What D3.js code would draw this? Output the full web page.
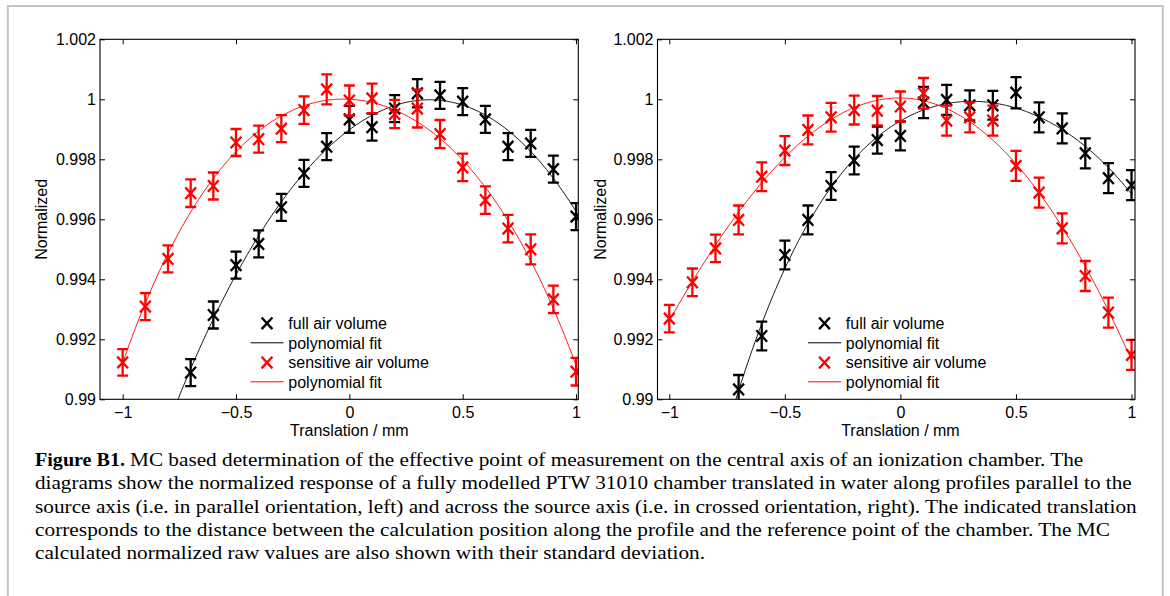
<!DOCTYPE html>
<html><head><meta charset="utf-8">
<script src="https://cdn.jsdelivr.net/npm/d3@7"></script>
<style>body{margin:0;background:#fff}</style>
</head><body>
<svg id="chart" width="1170" height="596"></svg>
<script>
// ---------- DATA ----------
const xAll = [-1,-0.9,-0.8,-0.7,-0.6,-0.5,-0.4,-0.3,-0.2,-0.1,0,0.1,0.2,0.3,0.4,0.5,0.6,0.7,0.8,0.9,1];
const xFrom07 = [-0.7,-0.6,-0.5,-0.4,-0.3,-0.2,-0.1,0,0.1,0.2,0.3,0.4,0.5,0.6,0.7,0.8,0.9,1];

// left panel (parallel orientation)
const leftFull = [0.99089,0.99281,0.99447,0.99518,0.99640,0.99753,0.99842,0.99933,0.99907,0.99969,1.00020,1.00013,0.99992,0.99933,0.99842,0.99853,0.99767,0.99609];
const leftFullErr = [0.00045,0.00045,0.00045,0.00045,0.00045,0.00045,0.00045,0.00045,0.00045,0.00045,0.00047,0.00045,0.00045,0.00045,0.00045,0.00045,0.00045,0.00045];
const leftSens = [0.99123,0.99309,0.99468,0.99687,0.99711,0.99856,0.99867,0.99902,0.99964,1.00033,0.99996,1.00003,0.99951,0.99969,0.99884,0.99773,0.99664,0.99569,0.99500,0.99333,0.99092];
const leftSensErr = [0.00044,0.00045,0.00045,0.00046,0.00045,0.00045,0.00045,0.00045,0.00046,0.00050,0.00050,0.00049,0.00047,0.00063,0.00047,0.00046,0.00046,0.00046,0.00050,0.00046,0.00046];

// right panel (crossed orientation)
const rightFull = [0.99033,0.99211,0.99481,0.99598,0.99711,0.99796,0.99864,0.99878,0.99989,0.99998,0.99980,0.99980,1.00022,0.99940,0.99903,0.99820,0.99737,0.99714];
const rightFullErr = [0.00048,0.00048,0.00048,0.00048,0.00046,0.00046,0.00045,0.00048,0.00052,0.00050,0.00050,0.00048,0.00052,0.00050,0.00050,0.00050,0.00050,0.00050];
const rightSens = [0.99269,0.99390,0.99503,0.99598,0.99742,0.99829,0.99898,0.99940,0.99964,0.99962,0.99976,1.00020,0.99929,0.99940,0.99929,0.99778,0.99689,0.99570,0.99411,0.99289,0.99148];
const rightSensErr = [0.00046,0.00046,0.00046,0.00048,0.00048,0.00048,0.00048,0.00048,0.00048,0.00049,0.00050,0.00051,0.00050,0.00050,0.00050,0.00050,0.00050,0.00050,0.00050,0.00050,0.00050];

const xTicks = [-1,-0.5,0,0.5,1];
const xTickLabels = ["\u22121","\u22120.5","0","0.5","1"];
const yTicks = [0.99,0.992,0.994,0.996,0.998,1,1.002];
const yTickLabels = ["0.99","0.992","0.994","0.996","0.998","1","1.002"];
const legendLabels = ["full air volume","polynomial fit","sensitive air volume","polynomial fit"];
const xLabel = "Translation / mm";
const yLabel = "Normalized";
const captionBold = "Figure B1.";
const captionLines = [
  "MC based determination of the effective point of measurement on the central axis of an ionization chamber. The",
  "diagrams show the normalized response of a fully modelled PTW 31010 chamber translated in water along profiles parallel to the",
  "source axis (i.e. in parallel orientation, left) and across the source axis (i.e. in crossed orientation, right). The indicated translation",
  "corresponds to the distance between the calculation position along the profile and the reference point of the chamber. The MC",
  "calculated normalized raw values are also shown with their standard deviation."
];

// ---------- HELPERS ----------
function polyfit(xs, ys, deg){
  const n = deg+1;
  const A = Array.from({length:n},()=>new Array(n).fill(0));
  const b = new Array(n).fill(0);
  xs.forEach((x,k)=>{
    for(let i=0;i<n;i++){
      b[i]+=ys[k]*Math.pow(x,i);
      for(let j=0;j<n;j++) A[i][j]+=Math.pow(x,i+j);
    }
  });
  for(let i=0;i<n;i++){
    let p=i; for(let r=i+1;r<n;r++) if(Math.abs(A[r][i])>Math.abs(A[p][i])) p=r;
    [A[i],A[p]]=[A[p],A[i]]; [b[i],b[p]]=[b[p],b[i]];
    for(let r=i+1;r<n;r++){const f=A[r][i]/A[i][i]; for(let c=i;c<n;c++) A[r][c]-=f*A[i][c]; b[r]-=f*b[i];}
  }
  const c=new Array(n).fill(0);
  for(let i=n-1;i>=0;i--){let s=b[i]; for(let j=i+1;j<n;j++) s-=A[i][j]*c[j]; c[i]=s/A[i][i];}
  return x=>c.reduce((s,ci,i)=>s+ci*Math.pow(x,i),0);
}

const svg = d3.select("#chart");
svg.append("rect").attr("width",1170).attr("height",596).attr("fill","#fff");
svg.append("rect").attr("x",7.8).attr("y",6).attr("width",1155).attr("height",700)
  .attr("fill","none").attr("stroke","#c4c4c4").attr("stroke-width",2);

const FONT = "'Liberation Sans', Arial, Helvetica, sans-serif";
const yTop = 39.3, yBottom = 399.3;
const y = d3.scaleLinear().domain([0.99,1.002]).range([yBottom, yTop]);

const panels = [
  {id:"L", left:100, right:578.3, domain:[-1.1,1.01], full:leftFull, fullErr:leftFullErr, sens:leftSens, sensErr:leftSensErr, ylabX:41},
  {id:"R", left:657.5, right:1135, domain:[-1.051,1.015], full:rightFull, fullErr:rightFullErr, sens:rightSens, sensErr:rightSensErr, ylabX:600}
];

const xMark = () => `M${-5.4},${-5.8}L${5.4},${5.8}M${-5.4},${5.8}L${5.4},${-5.8}`;

panels.forEach(p=>{
  const x = d3.scaleLinear().domain(p.domain).range([p.left,p.right]);
  const g = svg.append("g");
  g.append("clipPath").attr("id","clip"+p.id).append("rect")
    .attr("x",p.left).attr("y",yTop).attr("width",p.right-p.left).attr("height",yBottom-yTop);
  const plot = g.append("g").attr("clip-path",`url(#clip${p.id})`);

  const series = [
    {xs:xFrom07, ys:p.full, err:p.fullErr, color:"#000"},
    {xs:xAll, ys:p.sens, err:p.sensErr, color:"#ff0000"}
  ];
  series.forEach(s=>{
    const f = polyfit(s.xs, s.ys, 4);
    const fx = d3.range(-1,1.0001,0.01);
    plot.append("path").datum(fx)
      .attr("d", d3.line().x(d=>x(d)).y(d=>y(f(d))))
      .attr("fill","none").attr("stroke",s.color).attr("stroke-width",0.9);
  });
  series.forEach(s=>{
    const pts = plot.append("g").selectAll("g").data(s.xs.map((xv,i)=>({x:xv,y:s.ys[i],e:s.err[i]})))
      .join("g").attr("transform",d=>`translate(${x(d.x)},0)`)
      .attr("stroke",s.color).attr("stroke-width",2.3).attr("fill","none");
    pts.append("line").attr("x1",0).attr("x2",0).attr("y1",d=>y(d.y-d.e)).attr("y2",d=>y(d.y+d.e));
    pts.append("line").attr("x1",-5.5).attr("x2",5.5).attr("y1",d=>y(d.y-d.e)).attr("y2",d=>y(d.y-d.e));
    pts.append("line").attr("x1",-5.5).attr("x2",5.5).attr("y1",d=>y(d.y+d.e)).attr("y2",d=>y(d.y+d.e));
    pts.append("path").attr("transform",d=>`translate(0,${y(d.y)})`).attr("d",xMark());
  });

  // box
  g.append("rect").attr("x",p.left).attr("y",yTop).attr("width",p.right-p.left).attr("height",yBottom-yTop)
    .attr("fill","none").attr("stroke","#000").attr("stroke-width",1.1);

  const ax = (sel)=>{sel.select(".domain").remove(); sel.selectAll("line").attr("stroke","#000").attr("stroke-width",1);
    sel.selectAll("text").attr("fill","#000").style("font-family",FONT).style("font-size","16px");};
  g.append("g").attr("transform",`translate(0,${yBottom})`)
    .call(d3.axisBottom(x).tickValues(xTicks).tickFormat((d,i)=>xTickLabels[i]).tickSize(-5).tickPadding(7.5)).call(ax);
  g.append("g").attr("transform",`translate(0,${yTop})`)
    .call(d3.axisTop(x).tickValues(xTicks).tickFormat("").tickSize(-5)).call(ax);
  g.append("g").attr("transform",`translate(${p.left},0)`)
    .call(d3.axisLeft(y).tickValues(yTicks).tickFormat((d,i)=>yTickLabels[i]).tickSize(-5).tickPadding(4)).call(ax);
  g.append("g").attr("transform",`translate(${p.right},0)`)
    .call(d3.axisRight(y).tickValues(yTicks).tickFormat("").tickSize(-5)).call(ax);

  g.append("text").attr("x",(x(-1)+x(1))/2).attr("y",436).attr("text-anchor","middle")
    .style("font-family",FONT).style("font-size","16px").text(xLabel);
  g.append("text").attr("transform",`translate(${p.ylabX},${(yTop+yBottom)/2}) rotate(-90)`)
    .attr("text-anchor","middle").attr("dy","0.35em")
    .style("font-family",FONT).style("font-size","16px").text(yLabel);

  // legend
  const rows = [323.3,342.8,362.6,381.8];
  const lg = g.append("g").attr("transform",`translate(${p.left},0)`);
  const colors = ["#000","#000","#ff0000","#ff0000"];
  rows.forEach((ry,i)=>{
    if(i%2===0){
      lg.append("path").attr("transform",`translate(167,${ry})`).attr("d",xMark())
        .attr("stroke",colors[i]).attr("stroke-width",2.4).attr("fill","none");
    } else {
      lg.append("line").attr("x1",150.5).attr("x2",183.5).attr("y1",ry).attr("y2",ry)
        .attr("stroke",colors[i]).attr("stroke-width",1);
    }
    lg.append("text").attr("x",188.3).attr("y",ry).attr("dy","0.36em")
      .style("font-family",FONT).style("font-size","16px").text(legendLabels[i]);
  });
});

// ---------- CAPTION ----------
const SERIF = "'Liberation Serif', 'Times New Roman', serif";
const baselines = [466,489.3,512.7,536,559.3];
const targets = [[130,1083.3],[35,1131.7],[35,1136.7],[35,1110],[35,null]];
svg.append("text").attr("x",35).attr("y",baselines[0]).style("font-family",SERIF).style("font-size","18px")
  .style("font-weight","bold").attr("textLength",90).attr("lengthAdjust","spacingAndGlyphs").text(captionBold);
const capNodes = captionLines.map((t,i)=>svg.append("text").attr("x",targets[i][0]).attr("y",baselines[i])
  .style("font-family",SERIF).style("font-size","18px").text(t));
let ratios=[];
capNodes.forEach((n,i)=>{
  if(targets[i][1]!==null){
    const nat=n.node().getComputedTextLength(); const w=targets[i][1]-targets[i][0];
    ratios.push(w/nat);
    n.attr("textLength",w).attr("lengthAdjust","spacingAndGlyphs");
  }
});
const avg = d3.mean(ratios);
capNodes.forEach((n,i)=>{ if(targets[i][1]===null){ const nat=n.node().getComputedTextLength();
  n.attr("textLength",nat*avg).attr("lengthAdjust","spacingAndGlyphs"); }});
</script>
</body></html>
